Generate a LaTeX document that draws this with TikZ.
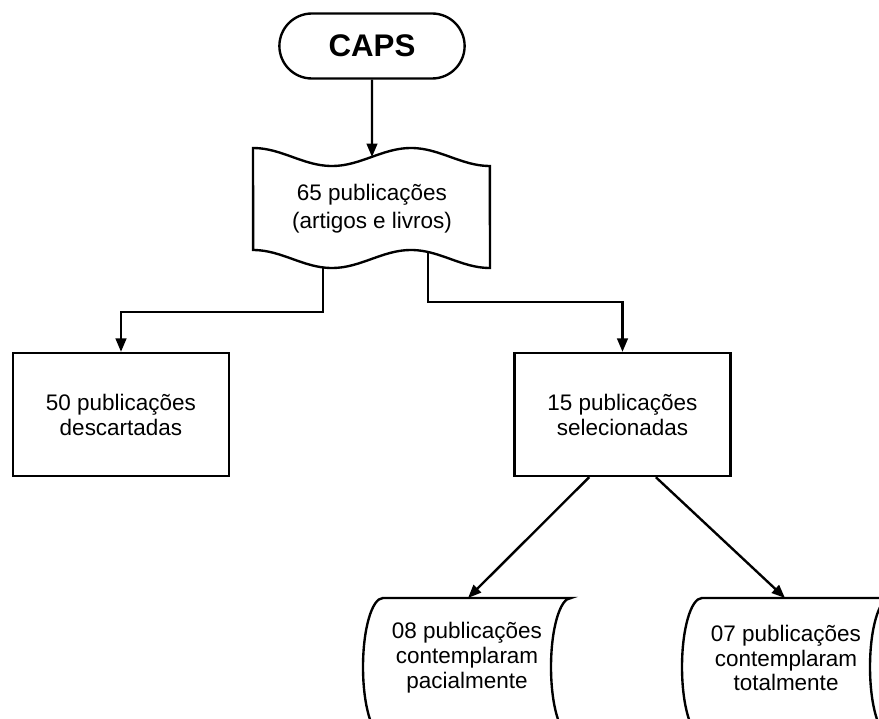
\documentclass[tikz,border=0pt]{standalone}
\usepackage{fontspec}
\setmainfont{Liberation Sans}
\usetikzlibrary{arrows.meta, shapes.misc}
\tikzset{
  cnode/.style={rounded rectangle, draw, minimum width=3.94cm, minimum height=1.3cm, font=\fontsize{17.8}{20}\selectfont\bfseries},
  bnode/.style={rectangle, draw, minimum width=4.32cm, minimum height=2.46cm, align=center, font=\fontsize{12.8}{14.2}\selectfont},
  dnode/.style={inner sep=0pt, align=center, font=\fontsize{12.8}{15.9}\selectfont},
  snode/.style={inner sep=0pt, align=center, font=\fontsize{12.8}{14.2}\selectfont},
  flow/.style={-{Triangle[length=7.6pt, width=6pt]}},
}

\begin{document}
\begin{tikzpicture}[x=0.02cm, y=0.02cm, line width=1.35pt]
  \useasboundingbox (0,0) rectangle (879,718);
  \clip (0,0) rectangle (879,718);
  % start
  \node[cnode] (caps) at (372,672) {CAPS};
  % tape: all publications
  \node[dnode] (pub) at (372,509) {65 publicações\\(artigos e livros)};
  \draw plot[domain=0:1, samples=60, smooth] ({253+237*\x}, {561+9*cos(540*\x)})
     -- plot[domain=0:1, samples=60, smooth] ({253+237*(1-\x)}, {459+9*cos(540*(1-\x))}) -- cycle;
  \coordinate (pubin) at (372,561);
  \coordinate (publ) at (323,450.6);
  \coordinate (pubr) at (428,466);
  % first split
  \node[bnode] (desc) at (121,303.5) {50 publicações\\descartadas};
  \node[bnode] (sel) at (622.5,303.5) {15 publicações\\selecionadas};
  % stored data, cut by the page
  \node[snode] (part) at (467,60) {08 publicações\\contemplaram\\pacialmente};
  \draw (383,120) -- (571,120) arc[start angle=90, end angle=270, x radius=0.4cm, y radius=1.38cm]
     -- (383,-18) arc[start angle=270, end angle=90, x radius=0.4cm, y radius=1.38cm] -- cycle;
  \node[snode] (total) at (786,60) {07 publicações\\contemplaram\\totalmente};
  \draw (702,120) -- (890,120) arc[start angle=90, end angle=270, x radius=0.4cm, y radius=1.38cm]
     -- (702,-18) arc[start angle=270, end angle=90, x radius=0.4cm, y radius=1.38cm] -- cycle;
  \coordinate (partin) at (468,120);
  \coordinate (totin) at (785,120);
  % connectors
  \draw[flow] (caps) -- (pubin);
  \draw[flow] (publ) -- ++(0,-44.6) -| (desc);
  \draw[flow] (pubr) -- ++(0,-50) -| (sel);
  \draw[flow] (sel.242) -- (partin);
  \draw[flow] (sel.298) -- (totin);
\end{tikzpicture}
\end{document}
